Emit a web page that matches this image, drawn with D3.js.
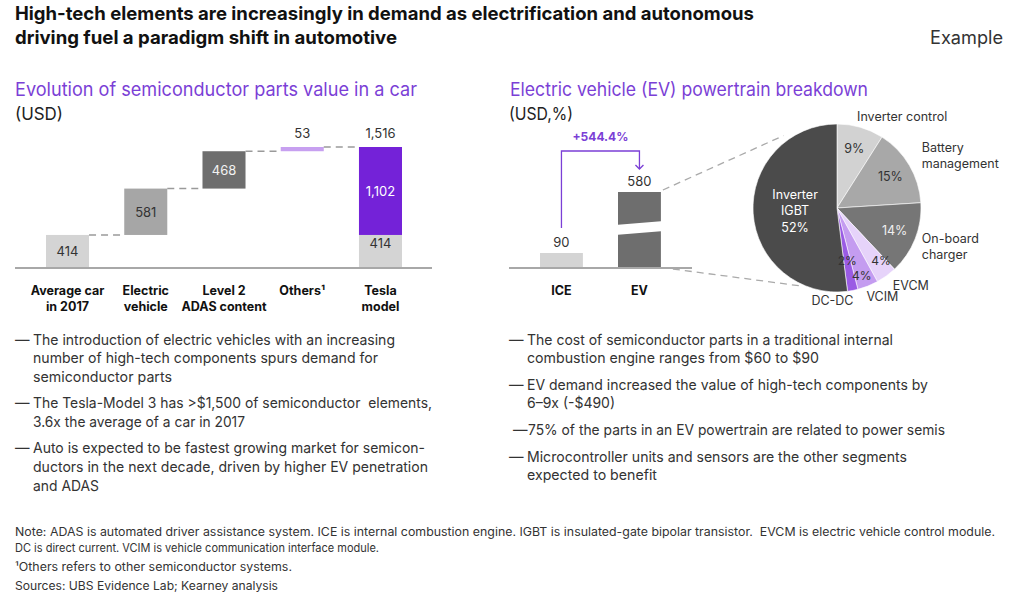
<!DOCTYPE html>
<html><head><meta charset="utf-8">
<script src="https://cdn.jsdelivr.net/npm/d3@7"></script>
<style>body{margin:0;background:#fff}svg{display:block;font-family:Inter,"Noto Sans",sans-serif}</style>
</head><body><svg id="c" width="1024" height="608"></svg>
<script>
// ---------- DATA ----------
const titleLines = ["High-tech elements are increasingly in demand as electrification and autonomous",
                    "driving fuel a paradigm shift in automotive"];
const tagText = "Example";
const leftTitle = "Evolution of semiconductor parts value in a car";
const leftUnit = "(USD)";
const rightTitle = "Electric vehicle (EV) powertrain breakdown";
const rightUnit = "(USD,%)";

const wfCategories = [["Average car","in 2017"],["Electric","vehicle"],["Level 2","ADAS content"],["Others¹"],["Tesla","model"]];
const wfSteps = [414, 581, 468, 53];
const wfStepLabels = ["414","581","468","53"];
const teslaParts = [414, 1102];
const teslaPartLabels = ["414","1,102"];
const teslaTotalLabel = "1,516";

const evCategories = ["ICE","EV"];
const evValues = [90, 580];
const evValueLabels = ["90","580"];
const evChangeLabel = "+544.4%";

const pieLabels = [["Inverter control"],["Battery","management"],["On-board","charger"],["EVCM"],["VCIM"],["DC-DC"],["Inverter","IGBT"]];
const pieValues = [9, 15, 14, 4, 4, 2, 52];

const leftBullets = [
  ["The introduction of electric vehicles with an increasing","number of high-tech components spurs demand for","semiconductor parts"],
  ["The Tesla-Model 3 has >$1,500 of semiconductor  elements,","3.6x the average of a car in 2017"],
  ["Auto is expected to be fastest growing market for semicon-","ductors in the next decade, driven by higher EV penetration","and ADAS"]
];
const rightBullets = [
  ["The cost of semiconductor parts in a traditional internal","combustion engine ranges from $60 to $90"],
  ["EV demand increased the value of high-tech components by","6–9x (-$490)"],
  ["75% of the parts in an EV powertrain are related to power semis"],
  ["Microcontroller units and sensors are the other segments","expected to benefit"]
];
const notes = [
  "Note: ADAS is automated driver assistance system. ICE is internal combustion engine. IGBT is insulated-gate bipolar transistor.  EVCM is electric vehicle control module.",
  "DC is direct current. VCIM is vehicle communication interface module.",
  "¹Others refers to other semiconductor systems.",
  "Sources: UBS Evidence Lab; Kearney analysis"
];

// ---------- STYLE / LAYOUT ----------
const C = {
  text:"#222", body:"#333", purple:"#7b3fd6", teslaPurple:"#7422d8", othersPurple:"#c7a0f0",
  g1:"#d4d4d4", g2:"#a6a6a6", g3:"#6e6e6e", axis:"#a8a8a8", dash:"#9a9a9a"
};
const wfColors = [C.g1, C.g2, C.g3, C.othersPurple];
const wfTextColors = ["#333","#333","#f2f2f2","#333"];
const teslaColors = [C.g1, C.teslaPurple];
const teslaTextColors = ["#333","#fff"];
const pieColors = ["#d2d2d2","#a8a8a8","#767676","#e6d3fa","#c49cf0","#9a5be4","#4b4b4b"];
const pieTextColors = ["#333","#333","#f0f0f0","#333","#333","#333","#fff"];

const svg = d3.select("#c");
function fit(sel, w){ if (w) sel.attr("textLength", w).attr("lengthAdjust","spacingAndGlyphs"); return sel; }
function txt(x, y, s, o={}){
  const t = svg.append("text").attr("x",x).attr("y",y).text(s)
    .attr("font-size", o.size||14).attr("fill", o.fill||C.text)
    .attr("font-weight", o.weight||400).attr("text-anchor", o.anchor||"start")
    .style("white-space","pre");
  return fit(t, o.w);
}

// ---------- TITLES ----------
txt(15, 20, titleLines[0], {size:18.5, weight:700, fill:"#111", w:739});
txt(15, 44, titleLines[1], {size:18.5, weight:700, fill:"#111", w:382});
txt(1003, 44, tagText, {size:18, anchor:"end", fill:"#333", w:73});
txt(15, 96, leftTitle, {size:18.5, fill:C.purple, w:402});
txt(15, 120, leftUnit, {size:17, fill:"#222", w:48});
txt(510, 96, rightTitle, {size:18.5, fill:C.purple, w:358});
txt(509, 120, rightUnit, {size:17, fill:"#222", w:64});

// ---------- WATERFALL ----------
const baseY = 268;
const xW = d3.scaleBand().domain(d3.range(wfCategories.length)).range([28.4, 419.6]).paddingInner(0.45).paddingOuter(0.225);
const total = d3.sum(wfSteps);
const yW = d3.scaleLinear().domain([0, total]).range([baseY, 147]);
const cum = [0]; wfSteps.forEach((v,i)=>cum.push(cum[i]+v));

const gW = svg.append("g");
wfSteps.forEach((v,i)=>{
  gW.append("rect").attr("x", xW(i)).attr("width", xW.bandwidth())
    .attr("y", yW(cum[i+1])).attr("height", yW(cum[i]) - yW(cum[i+1])).attr("fill", wfColors[i]);
});
for (let i=0;i<wfSteps.length;i++){
  gW.append("line").attr("x1", xW(i)+xW.bandwidth()).attr("x2", xW(i+1))
    .attr("y1", yW(cum[i+1])).attr("y2", yW(cum[i+1]))
    .attr("stroke", C.dash).attr("stroke-width",1.5).attr("stroke-dasharray","7,5");
}
const ti = wfCategories.length-1;
let tc = 0;
teslaParts.forEach((v,j)=>{
  gW.append("rect").attr("x", xW(ti)).attr("width", xW.bandwidth())
    .attr("y", yW(tc+v)).attr("height", yW(tc)-yW(tc+v)).attr("fill", teslaColors[j]);
  tc += v;
});
wfSteps.forEach((v,i)=>{
  const cx = xW(i)+xW.bandwidth()/2;
  if (i < 3) {
    txt(cx, (yW(cum[i])+yW(cum[i+1]))/2 + 5, wfStepLabels[i], {size:13, anchor:"middle", fill:wfTextColors[i]});
  } else {
    txt(cx, yW(cum[i+1]) - 9, wfStepLabels[i], {size:13, anchor:"middle", fill:"#333"});
  }
});
tc = 0;
teslaParts.forEach((v,j)=>{
  const cx = xW(ti)+xW.bandwidth()/2;
  const yy = j===0 ? yW(tc+v) + 13 : (yW(tc)+yW(tc+v))/2 + 5;
  txt(cx, yy, teslaPartLabels[j], {size:13, anchor:"middle", fill:teslaTextColors[j]});
  tc += v;
});
txt(xW(ti)+xW.bandwidth()/2, yW(d3.sum(teslaParts)) - 9, teslaTotalLabel, {size:13, anchor:"middle", fill:"#333"});
gW.append("line").attr("x1",15).attr("x2",432).attr("y1",baseY).attr("y2",baseY).attr("stroke",C.axis).attr("stroke-width",2);
wfCategories.forEach((lines,i)=>{
  lines.forEach((s,k)=>{
    txt(xW(i)+xW.bandwidth()/2, 295 + k*16, s, {size:12.5, weight:700, anchor:"middle", fill:"#111"});
  });
});

// ---------- EV BARS ----------
const xE = d3.scaleBand().domain(evCategories).range([522.45, 678.45]).paddingInner(0.45).paddingOuter(0.225);
const yE = d3.scaleLinear().domain([0, evValues[0], evValues[1]]).range([baseY, 253, 192]); // broken axis
const gE = svg.append("g");
gE.append("rect").attr("x", xE("ICE")).attr("width", xE.bandwidth()).attr("y", yE(evValues[0]))
  .attr("height", baseY - yE(evValues[0])).attr("fill", C.g1);
{
  const x0 = xE("EV"), x1 = x0 + xE.bandwidth();
  const top = yE(evValues[1]);
  const mid = baseY - (baseY - top)*0.527, gap = 5, slant = 1.8;
  gE.append("path").attr("fill", C.g3)
    .attr("d", `M${x0},${top}L${x1},${top}L${x1},${mid-gap-slant}L${x0},${mid-gap+slant}Z`);
  gE.append("path").attr("fill", C.g3)
    .attr("d", `M${x0},${mid+gap+slant}L${x1},${mid+gap-slant}L${x1},${baseY}L${x0},${baseY}Z`);
}
evCategories.forEach((c,i)=>{
  const cx = xE(c)+xE.bandwidth()/2;
  txt(cx, yE(evValues[i]) - 6, evValueLabels[i], {size:13, anchor:"middle", fill:"#333"});
  txt(cx, 295, c, {size:12.5, weight:700, anchor:"middle", fill:"#111"});
});
gE.append("line").attr("x1",509).attr("x2",692).attr("y1",baseY).attr("y2",baseY).attr("stroke",C.axis).attr("stroke-width",2);
{
  const xa = xE("ICE")+xE.bandwidth()/2, xb = xE("EV")+xE.bandwidth()/2;
  const yTop = 151, yStart = yE(evValues[0]) - 25, yEnd = yE(evValues[1]) - 23;
  gE.append("path").attr("fill","none").attr("stroke",C.purple).attr("stroke-width",1.3)
    .attr("d", `M${xa},${yStart}V${yTop}H${xb}V${yEnd}`);
  gE.append("path").attr("fill","none").attr("stroke",C.purple).attr("stroke-width",1.3)
    .attr("d", `M${xb-4},${yEnd-4}L${xb},${yEnd}L${xb+4},${yEnd-4}`);
  txt((xa+xb)/2, 141, evChangeLabel, {size:12, weight:700, anchor:"middle", fill:C.purple});
}

// ---------- PIE ----------
const pc = {x:837, y:208}, R = 84;
const pie = d3.pie().sort(null).value(d=>d)(pieValues);
const arc = d3.arc().innerRadius(0).outerRadius(R);
const gP = svg.append("g").attr("transform",`translate(${pc.x},${pc.y})`);
{
  const ev0 = xE("EV")+xE.bandwidth();
  const pt = (ang, r)=>[pc.x + r*Math.sin(ang), pc.y - r*Math.cos(ang)];
  const a1 = pt(-36.5*Math.PI/180, R+6), a2 = pt(205*Math.PI/180, R+2);
  svg.append("line").attr("x1",ev0+2).attr("y1",yE(evValues[1])-2).attr("x2",a1[0]).attr("y2",a1[1])
    .attr("stroke","#aaa").attr("stroke-width",1.3).attr("stroke-dasharray","7,5");
  svg.append("line").attr("x1",ev0+12).attr("y1",baseY+1).attr("x2",a2[0]).attr("y2",a2[1])
    .attr("stroke","#aaa").attr("stroke-width",1.3).attr("stroke-dasharray","7,5");
}
gP.selectAll("path").data(pie).join("path").attr("d",arc)
  .attr("fill",(d,i)=>pieColors[i]).attr("stroke","#fff").attr("stroke-width",0.6);
const innerR = [62,62,62,70,70,55,42];
const innerOff = [[0,0],[0,0],[0,0],[3,-4],[-1,3],[0,-1],[0,0]];
const innerSize = [12.5,12.5,12.5,12,12,12,12.5];
pie.forEach((d,i)=>{
  const a = (d.startAngle+d.endAngle)/2;
  const x = innerR[i]*Math.sin(a) + innerOff[i][0], y = -innerR[i]*Math.cos(a) + innerOff[i][1];
  const g = gP.append("text").attr("text-anchor","middle").attr("font-size",innerSize[i]).attr("fill",pieTextColors[i]);
  if (i === pie.length-1) {
    const lines = [...pieLabels[i], pieValues[i]+"%"];
    lines.forEach((s,k)=>g.append("tspan").attr("x",x).attr("y",y + (k-1)*16.5 + 4.5).text(s));
  } else {
    g.attr("x",x).attr("y",y+4.3).text(pieValues[i]+"%");
  }
});
const outerOff = [[-4.5,-7.5,"start"],[9,-16,"start"],[3,-2,"start"],[4,6,"start"],[-3,7,"start"],[0,6,"end"]];
pie.slice(0,6).forEach((d,i)=>{
  const a = (d.startAngle+d.endAngle)/2, r = 88;
  const x = r*Math.sin(a) + outerOff[i][0], y = -r*Math.cos(a) + outerOff[i][1];
  const t = gP.append("text").attr("font-size",12.5).attr("fill","#333").attr("text-anchor",outerOff[i][2]);
  pieLabels[i].forEach((s,k)=>t.append("tspan").attr("x",x).attr("y",y + k*16.5 + 4.5).text(s));
});

// ---------- BULLETS ----------
const leftW = [[362,345,139],[399,212],[392,395,66]];
const rightW = [[366,292],[401,88],[417],[380,130]];
function bullets(list, widths, x, dashX, ys, tight){
  let n = 0;
  list.forEach((b,bi)=>{
    b.forEach((s,li)=>{
      const y = ys[n++];
      const t = tight && tight[bi];
      if (li===0) txt(dashX + (t ? 4 : 0), y, "—", {size:14.5, fill:C.body});
      txt(x + (t ? 1 : 0), y, s, {size:14.5, fill:C.body, w:widths[bi][li]});
    });
  });
}
bullets(leftBullets, leftW, 33, 15, [345,363,382,408,427,453,472,491]);
bullets(rightBullets, rightW, 527, 509, [345,363,390,408,435,462,480], [false,false,true,false]);

// ---------- NOTES ----------
const noteW = [980,364,277,263];
const noteY = [536,552,571,590];
notes.forEach((s,i)=>txt(15, noteY[i], s, {size:11.5, fill:"#333", w:noteW[i]}));
</script></body></html>
